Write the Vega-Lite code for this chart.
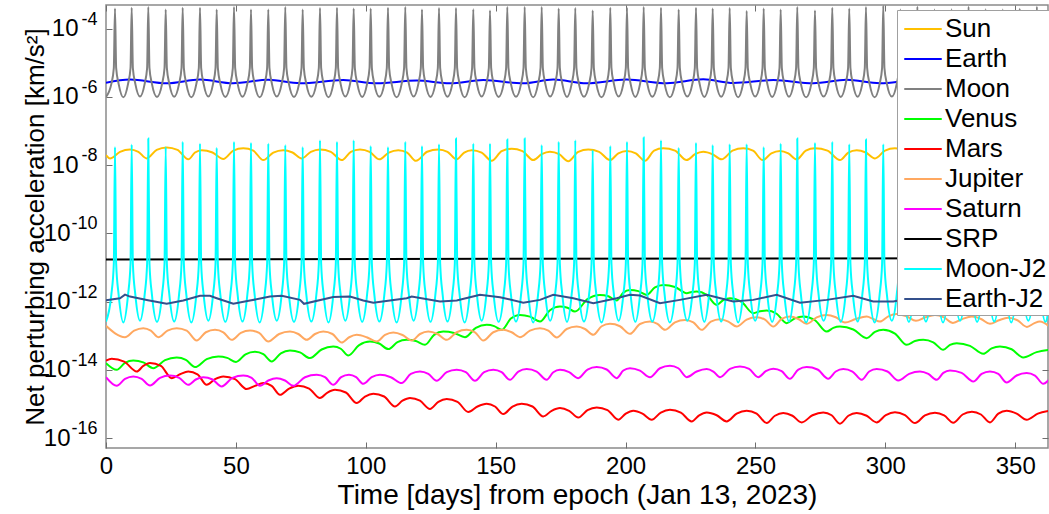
{
"$schema": "https://vega.github.io/schema/vega-lite/v6.json",
"width": 942, "height": 443,
"autosize": {"type": "none"},
"padding": {"left": 106, "top": 5, "right": 1, "bottom": 66},
"background": "white",
"config": {
 "font": "Liberation Sans",
 "view": {"stroke": "#8a8a8a", "strokeWidth": 1.5},
 "axis": {"grid": false, "domain": false, "tickColor": "#6e6e6e", "tickWidth": 1, "labelColor": "black", "titleColor": "black", "titleFontWeight": "normal"}
},
"datasets": {
"sun": [{"t":0,"v":1.96e-8},{"t":1.54,"v":1.57e-8},{"t":5.39,"v":2.45e-8},{"t":9.24,"v":2.88e-8},{"t":12.46,"v":2.45e-8},{"t":15.67,"v":1.57e-8},{"t":19.52,"v":2.8e-8},{"t":23.36,"v":3.3e-8},{"t":27.52,"v":2.8e-8},{"t":31.68,"v":1.47e-8},{"t":34.26,"v":2.33e-8},{"t":36.84,"v":2.74e-8},{"t":41.0,"v":2.33e-8},{"t":45.15,"v":1.5e-8},{"t":49.0,"v":2.64e-8},{"t":52.85,"v":3.1e-8},{"t":56.7,"v":2.64e-8},{"t":60.55,"v":1.4e-8},{"t":64.4,"v":2.33e-8},{"t":68.24,"v":2.74e-8},{"t":71.79,"v":2.33e-8},{"t":75.33,"v":1.57e-8},{"t":78.85,"v":2.45e-8},{"t":82.37,"v":2.88e-8},{"t":86.55,"v":2.45e-8},{"t":90.72,"v":1.4e-8},{"t":94.25,"v":2.45e-8},{"t":97.77,"v":2.88e-8},{"t":101.49,"v":2.45e-8},{"t":105.2,"v":1.47e-8},{"t":108.86,"v":2.33e-8},{"t":112.51,"v":2.74e-8},{"t":115.92,"v":2.33e-8},{"t":119.32,"v":1.33e-8},{"t":123.62,"v":2.45e-8},{"t":127.91,"v":2.88e-8},{"t":131.45,"v":2.45e-8},{"t":134.99,"v":1.47e-8},{"t":137.88,"v":2.33e-8},{"t":140.76,"v":2.74e-8},{"t":144.61,"v":2.33e-8},{"t":148.46,"v":1.33e-8},{"t":152.31,"v":2.55e-8},{"t":156.16,"v":3.0e-8},{"t":160.32,"v":2.55e-8},{"t":164.47,"v":1.4e-8},{"t":167.69,"v":2.08e-8},{"t":170.9,"v":2.45e-8},{"t":174.42,"v":2.08e-8},{"t":177.94,"v":1.3e-8},{"t":181.79,"v":2.45e-8},{"t":185.64,"v":2.88e-8},{"t":189.82,"v":2.45e-8},{"t":193.99,"v":1.4e-8},{"t":197.21,"v":2.2e-8},{"t":200.42,"v":2.6e-8},{"t":203.95,"v":2.2e-8},{"t":207.47,"v":1.33e-8},{"t":210.99,"v":2.64e-8},{"t":214.51,"v":3.1e-8},{"t":219.02,"v":2.64e-8},{"t":223.52,"v":1.4e-8},{"t":226.72,"v":2.08e-8},{"t":229.91,"v":2.45e-8},{"t":233.45,"v":2.08e-8},{"t":236.99,"v":1.47e-8},{"t":241.15,"v":2.64e-8},{"t":245.3,"v":3.1e-8},{"t":249.04,"v":2.64e-8},{"t":252.77,"v":1.4e-8},{"t":256.1,"v":2.2e-8},{"t":259.43,"v":2.6e-8},{"t":262.65,"v":2.2e-8},{"t":265.86,"v":1.47e-8},{"t":269.38,"v":2.64e-8},{"t":272.9,"v":3.1e-8},{"t":277.71,"v":2.64e-8},{"t":282.52,"v":1.4e-8},{"t":285.74,"v":2.33e-8},{"t":288.95,"v":2.74e-8},{"t":292.47,"v":2.33e-8},{"t":295.99,"v":1.57e-8},{"t":299.85,"v":2.64e-8},{"t":303.7,"v":3.1e-8},{"t":307.15,"v":2.64e-8},{"t":310.6,"v":1.45e-8},{"t":314.45,"v":2.38e-8},{"t":318.3,"v":2.8e-8},{"t":321.8,"v":2.38e-8},{"t":325.3,"v":1.4e-8},{"t":328.95,"v":2.47e-8},{"t":332.6,"v":2.9e-8},{"t":336.25,"v":2.47e-8},{"t":339.9,"v":1.45e-8},{"t":343.55,"v":2.38e-8},{"t":347.2,"v":2.8e-8},{"t":350.85,"v":2.38e-8},{"t":354.5,"v":1.4e-8},{"t":358.15,"v":2.47e-8},{"t":361.8,"v":2.9e-8},{"t":363,"v":2.85e-8}],
"earth": [{"t":0,"v":2.6e-6},{"t":9.2,"v":3.2e-6},{"t":23.4,"v":2.5e-6},{"t":36.2,"v":3.2e-6},{"t":48.9,"v":2.5e-6},{"t":62.4,"v":3.15e-6},{"t":74.7,"v":2.5e-6},{"t":91.3,"v":3.1e-6},{"t":104.2,"v":2.5e-6},{"t":119.6,"v":3.0e-6},{"t":132.4,"v":2.5e-6},{"t":145.2,"v":3.1e-6},{"t":160.6,"v":2.5e-6},{"t":172.2,"v":3.2e-6},{"t":185.0,"v":2.5e-6},{"t":200.4,"v":3.2e-6},{"t":215.8,"v":2.5e-6},{"t":229.9,"v":3.25e-6},{"t":241.5,"v":2.55e-6},{"t":256.9,"v":3.1e-6},{"t":272.3,"v":2.5e-6},{"t":285.1,"v":3.15e-6},{"t":297.9,"v":2.5e-6},{"t":312,"v":3.1e-6},{"t":326,"v":2.5e-6},{"t":340,"v":3.1e-6},{"t":353,"v":2.5e-6},{"t":363,"v":2.9e-6}],
"moon": [{"t":0,"m":1.0e-6,"j":2.6e-13},
{"t":2.06,"m":2.4e-6,"j":1.6e-12},{"t":3.01,"m":7e-6,"j":1.3e-11},{"t":3.46,"m":3.85e-4,"j":3.4e-8},{"t":3.91,"m":7e-6,"j":1.3e-11},{"t":4.86,"m":2.4e-6,"j":1.6e-12},{"t":6.68,"m":9.7e-7,"j":2.45e-13},
{"t":8.49,"m":2.4e-6,"j":1.6e-12},{"t":9.44,"m":7e-6,"j":1.3e-11},{"t":9.89,"m":4.05e-4,"j":4.0e-8},{"t":10.34,"m":7e-6,"j":1.3e-11},{"t":11.29,"m":2.4e-6,"j":1.6e-12},{"t":13.09,"m":1.02e-6,"j":2.75e-13},
{"t":14.88,"m":2.4e-6,"j":1.6e-12},{"t":15.83,"m":7e-6,"j":1.3e-11},{"t":16.28,"m":4.3e-4,"j":6.0e-8},{"t":16.73,"m":7e-6,"j":1.3e-11},{"t":17.68,"m":2.4e-6,"j":1.6e-12},{"t":19.63,"m":9.9e-7,"j":2.55e-13},
{"t":21.58,"m":2.4e-6,"j":1.6e-12},{"t":22.53,"m":7e-6,"j":1.3e-11},{"t":22.98,"m":3.6e-4,"j":3.4e-8},{"t":23.43,"m":7e-6,"j":1.3e-11},{"t":24.38,"m":2.4e-6,"j":1.6e-12},{"t":26.25,"m":1.0e-6,"j":2.6e-13},
{"t":28.12,"m":2.4e-6,"j":1.6e-12},{"t":29.07,"m":7e-6,"j":1.3e-11},{"t":29.52,"m":4.05e-4,"j":4.8e-8},{"t":29.97,"m":7e-6,"j":1.3e-11},{"t":30.92,"m":2.4e-6,"j":1.6e-12},{"t":32.85,"m":9.7e-7,"j":2.45e-13},
{"t":34.78,"m":2.4e-6,"j":1.6e-12},{"t":35.73,"m":7e-6,"j":1.3e-11},{"t":36.18,"m":4.05e-4,"j":4.3e-8},{"t":36.63,"m":7e-6,"j":1.3e-11},{"t":37.58,"m":2.4e-6,"j":1.6e-12},{"t":39.4,"m":1.02e-6,"j":2.75e-13},
{"t":41.21,"m":2.4e-6,"j":1.6e-12},{"t":42.16,"m":7e-6,"j":1.3e-11},{"t":42.61,"m":3.6e-4,"j":3.2e-8},{"t":43.06,"m":7e-6,"j":1.3e-11},{"t":44.01,"m":2.4e-6,"j":1.6e-12},{"t":45.94,"m":9.9e-7,"j":2.55e-13},
{"t":47.87,"m":2.4e-6,"j":1.6e-12},{"t":48.82,"m":7e-6,"j":1.3e-11},{"t":49.27,"m":4.3e-4,"j":4.8e-8},{"t":49.72,"m":7e-6,"j":1.3e-11},{"t":50.67,"m":2.4e-6,"j":1.6e-12},{"t":52.54,"m":1.0e-6,"j":2.6e-13},
{"t":54.41,"m":2.4e-6,"j":1.6e-12},{"t":55.36,"m":7e-6,"j":1.3e-11},{"t":55.81,"m":3.6e-4,"j":4.5e-8},{"t":56.26,"m":7e-6,"j":1.3e-11},{"t":57.21,"m":2.4e-6,"j":1.6e-12},{"t":59.14,"m":9.7e-7,"j":2.45e-13},
{"t":61.07,"m":2.4e-6,"j":1.6e-12},{"t":62.02,"m":7e-6,"j":1.3e-11},{"t":62.47,"m":3.6e-4,"j":4.3e-8},{"t":62.92,"m":7e-6,"j":1.3e-11},{"t":63.87,"m":2.4e-6,"j":1.6e-12},{"t":65.74,"m":1.02e-6,"j":2.75e-13},
{"t":67.61,"m":2.4e-6,"j":1.6e-12},{"t":68.56,"m":7e-6,"j":1.3e-11},{"t":69.01,"m":4.3e-4,"j":3.85e-8},{"t":69.46,"m":7e-6,"j":1.3e-11},{"t":70.41,"m":2.4e-6,"j":1.6e-12},{"t":72.36,"m":9.9e-7,"j":2.55e-13},
{"t":74.31,"m":2.4e-6,"j":1.6e-12},{"t":75.26,"m":7e-6,"j":1.3e-11},{"t":75.71,"m":3.6e-4,"j":3.4e-8},{"t":76.16,"m":7e-6,"j":1.3e-11},{"t":77.11,"m":2.4e-6,"j":1.6e-12},{"t":79.04,"m":1.0e-6,"j":2.6e-13},
{"t":80.97,"m":2.4e-6,"j":1.6e-12},{"t":81.92,"m":7e-6,"j":1.3e-11},{"t":82.37,"m":4.0e-4,"j":5.3e-8},{"t":82.82,"m":7e-6,"j":1.3e-11},{"t":83.77,"m":2.4e-6,"j":1.6e-12},{"t":85.64,"m":9.7e-7,"j":2.45e-13},
{"t":87.51,"m":2.4e-6,"j":1.6e-12},{"t":88.46,"m":7e-6,"j":1.3e-11},{"t":88.91,"m":4.05e-4,"j":4.8e-8},{"t":89.36,"m":7e-6,"j":1.3e-11},{"t":90.31,"m":2.4e-6,"j":1.6e-12},{"t":92.13,"m":1.02e-6,"j":2.75e-13},
{"t":93.94,"m":2.4e-6,"j":1.6e-12},{"t":94.89,"m":7e-6,"j":1.3e-11},{"t":95.34,"m":3.85e-4,"j":5.3e-8},{"t":95.79,"m":7e-6,"j":1.3e-11},{"t":96.74,"m":2.4e-6,"j":1.6e-12},{"t":98.62,"m":9.9e-7,"j":2.55e-13},
{"t":100.49,"m":2.4e-6,"j":1.6e-12},{"t":101.44,"m":7e-6,"j":1.3e-11},{"t":101.89,"m":3.85e-4,"j":3.6e-8},{"t":102.34,"m":7e-6,"j":1.3e-11},{"t":103.29,"m":2.4e-6,"j":1.6e-12},{"t":105.22,"m":1.0e-6,"j":2.6e-13},
{"t":107.14,"m":2.4e-6,"j":1.6e-12},{"t":108.09,"m":7e-6,"j":1.3e-11},{"t":108.54,"m":4.05e-4,"j":3.4e-8},{"t":108.99,"m":7e-6,"j":1.3e-11},{"t":109.94,"m":2.4e-6,"j":1.6e-12},{"t":111.87,"m":9.7e-7,"j":2.45e-13},
{"t":113.8,"m":2.4e-6,"j":1.6e-12},{"t":114.75,"m":7e-6,"j":1.3e-11},{"t":115.2,"m":4.3e-4,"j":4.8e-8},{"t":115.65,"m":7e-6,"j":1.3e-11},{"t":116.6,"m":2.4e-6,"j":1.6e-12},{"t":118.42,"m":1.02e-6,"j":2.75e-13},
{"t":120.23,"m":2.4e-6,"j":1.6e-12},{"t":121.18,"m":7e-6,"j":1.3e-11},{"t":121.63,"m":3.6e-4,"j":3.6e-8},{"t":122.08,"m":7e-6,"j":1.3e-11},{"t":123.03,"m":2.4e-6,"j":1.6e-12},{"t":124.91,"m":9.9e-7,"j":2.55e-13},
{"t":126.78,"m":2.4e-6,"j":1.6e-12},{"t":127.73,"m":7e-6,"j":1.3e-11},{"t":128.18,"m":4.0e-4,"j":4.1e-8},{"t":128.63,"m":7e-6,"j":1.3e-11},{"t":129.58,"m":2.4e-6,"j":1.6e-12},{"t":131.45,"m":1.0e-6,"j":2.6e-13},
{"t":133.32,"m":2.4e-6,"j":1.6e-12},{"t":134.27,"m":7e-6,"j":1.3e-11},{"t":134.72,"m":4.0e-4,"j":6.0e-8},{"t":135.17,"m":7e-6,"j":1.3e-11},{"t":136.12,"m":2.4e-6,"j":1.6e-12},{"t":138.05,"m":9.7e-7,"j":2.45e-13},
{"t":139.98,"m":2.4e-6,"j":1.6e-12},{"t":140.93,"m":7e-6,"j":1.3e-11},{"t":141.38,"m":3.7e-4,"j":4.3e-8},{"t":141.83,"m":7e-6,"j":1.3e-11},{"t":142.78,"m":2.4e-6,"j":1.6e-12},{"t":144.6,"m":1.02e-6,"j":2.75e-13},
{"t":146.41,"m":2.4e-6,"j":1.6e-12},{"t":147.36,"m":7e-6,"j":1.3e-11},{"t":147.81,"m":3.4e-4,"j":4.3e-8},{"t":148.26,"m":7e-6,"j":1.3e-11},{"t":149.21,"m":2.4e-6,"j":1.6e-12},{"t":151.14,"m":9.9e-7,"j":2.55e-13},
{"t":153.07,"m":2.4e-6,"j":1.6e-12},{"t":154.02,"m":7e-6,"j":1.3e-11},{"t":154.47,"m":4.3e-4,"j":5.6e-8},{"t":154.92,"m":7e-6,"j":1.3e-11},{"t":155.87,"m":2.4e-6,"j":1.6e-12},{"t":157.82,"m":1.0e-6,"j":2.6e-13},
{"t":159.76,"m":2.4e-6,"j":1.6e-12},{"t":160.71,"m":7e-6,"j":1.3e-11},{"t":161.16,"m":4.3e-4,"j":6.0e-8},{"t":161.61,"m":7e-6,"j":1.3e-11},{"t":162.56,"m":2.4e-6,"j":1.6e-12},{"t":164.44,"m":9.7e-7,"j":2.45e-13},
{"t":166.31,"m":2.4e-6,"j":1.6e-12},{"t":167.26,"m":7e-6,"j":1.3e-11},{"t":167.71,"m":4.3e-4,"j":3.85e-8},{"t":168.16,"m":7e-6,"j":1.3e-11},{"t":169.11,"m":2.4e-6,"j":1.6e-12},{"t":170.98,"m":1.02e-6,"j":2.75e-13},
{"t":172.85,"m":2.4e-6,"j":1.6e-12},{"t":173.8,"m":7e-6,"j":1.3e-11},{"t":174.25,"m":3.85e-4,"j":4.8e-8},{"t":174.7,"m":7e-6,"j":1.3e-11},{"t":175.65,"m":2.4e-6,"j":1.6e-12},{"t":177.45,"m":9.9e-7,"j":2.55e-13},
{"t":179.24,"m":2.4e-6,"j":1.6e-12},{"t":180.19,"m":7e-6,"j":1.3e-11},{"t":180.64,"m":4.0e-4,"j":5.3e-8},{"t":181.09,"m":7e-6,"j":1.3e-11},{"t":182.04,"m":2.4e-6,"j":1.6e-12},{"t":183.99,"m":1.0e-6,"j":2.6e-13},
{"t":185.94,"m":2.4e-6,"j":1.6e-12},{"t":186.89,"m":7e-6,"j":1.3e-11},{"t":187.34,"m":3.4e-4,"j":2.74e-8},{"t":187.79,"m":7e-6,"j":1.3e-11},{"t":188.74,"m":2.4e-6,"j":1.6e-12},{"t":190.73,"m":9.7e-7,"j":2.45e-13},
{"t":192.71,"m":2.4e-6,"j":1.6e-12},{"t":193.66,"m":7e-6,"j":1.3e-11},{"t":194.11,"m":4.05e-4,"j":3.6e-8},{"t":194.56,"m":7e-6,"j":1.3e-11},{"t":195.51,"m":2.4e-6,"j":1.6e-12},{"t":197.33,"m":1.02e-6,"j":2.75e-13},
{"t":199.14,"m":2.4e-6,"j":1.6e-12},{"t":200.09,"m":7e-6,"j":1.3e-11},{"t":200.54,"m":4.05e-4,"j":4.8e-8},{"t":200.99,"m":7e-6,"j":1.3e-11},{"t":201.94,"m":2.4e-6,"j":1.6e-12},{"t":203.76,"m":9.9e-7,"j":2.55e-13},
{"t":205.57,"m":2.4e-6,"j":1.6e-12},{"t":206.52,"m":7e-6,"j":1.3e-11},{"t":206.97,"m":4.3e-4,"j":6.45e-8},{"t":207.42,"m":7e-6,"j":1.3e-11},{"t":208.37,"m":2.4e-6,"j":1.6e-12},{"t":210.3,"m":1.0e-6,"j":2.6e-13},
{"t":212.23,"m":2.4e-6,"j":1.6e-12},{"t":213.18,"m":7e-6,"j":1.3e-11},{"t":213.63,"m":4.05e-4,"j":5.3e-8},{"t":214.08,"m":7e-6,"j":1.3e-11},{"t":215.03,"m":2.4e-6,"j":1.6e-12},{"t":217.04,"m":9.7e-7,"j":2.45e-13},
{"t":219.04,"m":2.4e-6,"j":1.6e-12},{"t":219.99,"m":7e-6,"j":1.3e-11},{"t":220.44,"m":3.6e-4,"j":3.2e-8},{"t":220.89,"m":7e-6,"j":1.3e-11},{"t":221.84,"m":2.4e-6,"j":1.6e-12},{"t":223.77,"m":1.02e-6,"j":2.75e-13},
{"t":225.7,"m":2.4e-6,"j":1.6e-12},{"t":226.65,"m":7e-6,"j":1.3e-11},{"t":227.1,"m":4.05e-4,"j":4.5e-8},{"t":227.55,"m":7e-6,"j":1.3e-11},{"t":228.5,"m":2.4e-6,"j":1.6e-12},{"t":230.32,"m":9.9e-7,"j":2.55e-13},
{"t":232.13,"m":2.4e-6,"j":1.6e-12},{"t":233.08,"m":7e-6,"j":1.3e-11},{"t":233.53,"m":3.85e-4,"j":3.85e-8},{"t":233.98,"m":7e-6,"j":1.3e-11},{"t":234.93,"m":2.4e-6,"j":1.6e-12},{"t":236.8,"m":1.0e-6,"j":2.6e-13},
{"t":238.67,"m":2.4e-6,"j":1.6e-12},{"t":239.62,"m":7e-6,"j":1.3e-11},{"t":240.07,"m":4.0e-4,"j":4.1e-8},{"t":240.52,"m":7e-6,"j":1.3e-11},{"t":241.47,"m":2.4e-6,"j":1.6e-12},{"t":243.34,"m":9.7e-7,"j":2.45e-13},
{"t":245.21,"m":2.4e-6,"j":1.6e-12},{"t":246.16,"m":7e-6,"j":1.3e-11},{"t":246.61,"m":3.3e-4,"j":4.1e-8},{"t":247.06,"m":7e-6,"j":1.3e-11},{"t":248.01,"m":2.4e-6,"j":1.6e-12},{"t":249.89,"m":1.02e-6,"j":2.75e-13},
{"t":251.76,"m":2.4e-6,"j":1.6e-12},{"t":252.71,"m":7e-6,"j":1.3e-11},{"t":253.16,"m":3.85e-4,"j":3.4e-8},{"t":253.61,"m":7e-6,"j":1.3e-11},{"t":254.56,"m":2.4e-6,"j":1.6e-12},{"t":256.43,"m":9.9e-7,"j":2.55e-13},
{"t":258.3,"m":2.4e-6,"j":1.6e-12},{"t":259.25,"m":7e-6,"j":1.3e-11},{"t":259.7,"m":3.6e-4,"j":4.3e-8},{"t":260.15,"m":7e-6,"j":1.3e-11},{"t":261.1,"m":2.4e-6,"j":1.6e-12},{"t":262.9,"m":1.0e-6,"j":2.6e-13},
{"t":264.69,"m":2.4e-6,"j":1.6e-12},{"t":265.64,"m":7e-6,"j":1.3e-11},{"t":266.09,"m":4.3e-4,"j":6.0e-8},{"t":266.54,"m":7e-6,"j":1.3e-11},{"t":267.49,"m":2.4e-6,"j":1.6e-12},{"t":269.5,"m":9.7e-7,"j":2.45e-13},
{"t":271.5,"m":2.4e-6,"j":1.6e-12},{"t":272.45,"m":7e-6,"j":1.3e-11},{"t":272.9,"m":3.4e-4,"j":4.5e-8},{"t":273.35,"m":7e-6,"j":1.3e-11},{"t":274.3,"m":2.4e-6,"j":1.6e-12},{"t":276.23,"m":1.02e-6,"j":2.75e-13},
{"t":278.16,"m":2.4e-6,"j":1.6e-12},{"t":279.11,"m":7e-6,"j":1.3e-11},{"t":279.56,"m":4.05e-4,"j":4.8e-8},{"t":280.01,"m":7e-6,"j":1.3e-11},{"t":280.96,"m":2.4e-6,"j":1.6e-12},{"t":282.83,"m":9.9e-7,"j":2.55e-13},
{"t":284.7,"m":2.4e-6,"j":1.6e-12},{"t":285.65,"m":7e-6,"j":1.3e-11},{"t":286.1,"m":3.85e-4,"j":4.1e-8},{"t":286.55,"m":7e-6,"j":1.3e-11},{"t":287.5,"m":2.4e-6,"j":1.6e-12},{"t":289.32,"m":1.0e-6,"j":2.6e-13},
{"t":291.13,"m":2.4e-6,"j":1.6e-12},{"t":292.08,"m":7e-6,"j":1.3e-11},{"t":292.53,"m":4.3e-4,"j":5.6e-8},{"t":292.98,"m":7e-6,"j":1.3e-11},{"t":293.93,"m":2.4e-6,"j":1.6e-12},{"t":295.86,"m":9.7e-7,"j":2.45e-13},
{"t":297.79,"m":2.4e-6,"j":1.6e-12},{"t":298.74,"m":7e-6,"j":1.3e-11},{"t":299.19,"m":4.7e-4,"j":4.1e-8},{"t":299.64,"m":7e-6,"j":1.3e-11},{"t":300.59,"m":2.4e-6,"j":1.6e-12},{"t":302.48,"m":1.02e-6,"j":2.75e-13},
{"t":304.37,"m":2.4e-6,"j":1.6e-12},{"t":305.32,"m":7e-6,"j":1.3e-11},{"t":305.77,"m":3.6e-4,"j":4.3e-8},{"t":306.22,"m":7e-6,"j":1.3e-11},{"t":307.17,"m":2.4e-6,"j":1.6e-12},{"t":309.05,"m":9.9e-7,"j":2.55e-13},
{"t":310.92,"m":2.4e-6,"j":1.6e-12},{"t":311.87,"m":7e-6,"j":1.3e-11},{"t":312.32,"m":4.4e-4,"j":4.8e-8},{"t":312.77,"m":7e-6,"j":1.3e-11},{"t":313.72,"m":2.4e-6,"j":1.6e-12},{"t":315.61,"m":1.0e-6,"j":2.6e-13},
{"t":317.5,"m":2.4e-6,"j":1.6e-12},{"t":318.45,"m":7e-6,"j":1.3e-11},{"t":318.9,"m":3.6e-4,"j":3.6e-8},{"t":319.35,"m":7e-6,"j":1.3e-11},{"t":320.3,"m":2.4e-6,"j":1.6e-12},{"t":322.19,"m":9.7e-7,"j":2.45e-13},
{"t":324.08,"m":2.4e-6,"j":1.6e-12},{"t":325.03,"m":7e-6,"j":1.3e-11},{"t":325.48,"m":3.7e-4,"j":4.5e-8},{"t":325.93,"m":7e-6,"j":1.3e-11},{"t":326.88,"m":2.4e-6,"j":1.6e-12},{"t":328.75,"m":1.02e-6,"j":2.75e-13},
{"t":330.62,"m":2.4e-6,"j":1.6e-12},{"t":331.57,"m":7e-6,"j":1.3e-11},{"t":332.02,"m":4.4e-4,"j":5.3e-8},{"t":332.47,"m":7e-6,"j":1.3e-11},{"t":333.42,"m":2.4e-6,"j":1.6e-12},{"t":335.32,"m":9.9e-7,"j":2.55e-13},
{"t":337.21,"m":2.4e-6,"j":1.6e-12},{"t":338.16,"m":7e-6,"j":1.3e-11},{"t":338.61,"m":3.7e-4,"j":4.0e-8},{"t":339.06,"m":7e-6,"j":1.3e-11},{"t":340.01,"m":2.4e-6,"j":1.6e-12},{"t":341.9,"m":1.0e-6,"j":2.6e-13},
{"t":343.79,"m":2.4e-6,"j":1.6e-12},{"t":344.74,"m":7e-6,"j":1.3e-11},{"t":345.19,"m":3.6e-4,"j":4.3e-8},{"t":345.64,"m":7e-6,"j":1.3e-11},{"t":346.59,"m":2.4e-6,"j":1.6e-12},{"t":348.46,"m":9.7e-7,"j":2.45e-13},
{"t":350.33,"m":2.4e-6,"j":1.6e-12},{"t":351.28,"m":7e-6,"j":1.3e-11},{"t":351.73,"m":3.8e-4,"j":3.8e-8},{"t":352.18,"m":7e-6,"j":1.3e-11},{"t":353.13,"m":2.4e-6,"j":1.6e-12},{"t":355.03,"m":1.02e-6,"j":2.75e-13},
{"t":356.92,"m":2.4e-6,"j":1.6e-12},{"t":357.87,"m":7e-6,"j":1.3e-11},{"t":358.32,"m":4.4e-4,"j":4.8e-8},{"t":358.77,"m":7e-6,"j":1.3e-11},{"t":359.72,"m":2.4e-6,"j":1.6e-12},{"t":361.61,"m":9.9e-7,"j":2.55e-13},
{"t":363.5,"m":2.4e-6,"j":1.6e-12}],
"venus": [{"t":0,"v":1.57e-14},{"t":4.12,"v":1.0e-14},{"t":7.32,"v":1.6e-14},{"t":10.51,"v":1.87e-14},{"t":14.36,"v":1.65e-14},{"t":18.21,"v":1.12e-14},{"t":22.71,"v":1.92e-14},{"t":27.21,"v":2.29e-14},{"t":30.74,"v":1.95e-14},{"t":34.26,"v":1.2e-14},{"t":38.75,"v":2.05e-14},{"t":43.23,"v":2.45e-14},{"t":46.64,"v":2.24e-14},{"t":50.04,"v":1.7e-14},{"t":53.7,"v":2.83e-14},{"t":57.35,"v":3.37e-14},{"t":60.57,"v":2.86e-14},{"t":63.78,"v":1.75e-14},{"t":67.3,"v":3.05e-14},{"t":70.82,"v":3.67e-14},{"t":74.67,"v":3.23e-14},{"t":78.52,"v":2.2e-14},{"t":83.0,"v":3.94e-14},{"t":87.49,"v":4.81e-14},{"t":90.38,"v":4.14e-14},{"t":93.26,"v":2.62e-14},{"t":97.44,"v":5.3e-14},{"t":101.62,"v":6.73e-14},{"t":105.14,"v":5.9e-14},{"t":108.66,"v":4.04e-14},{"t":112.2,"v":6.45e-14},{"t":115.74,"v":7.55e-14},{"t":119.27,"v":6.95e-14},{"t":122.79,"v":5.39e-14},{"t":126.31,"v":1.06e-13},{"t":129.83,"v":1.32e-13},{"t":134.0,"v":1.2e-13},{"t":138.18,"v":9.06e-14},{"t":142.36,"v":1.69e-13},{"t":146.54,"v":2.08e-13},{"t":149.43,"v":1.91e-13},{"t":152.31,"v":1.48e-13},{"t":155.83,"v":3.17e-13},{"t":159.35,"v":4.07e-13},{"t":163.2,"v":3.62e-13},{"t":167.05,"v":2.59e-13},{"t":170.9,"v":5.56e-13},{"t":174.75,"v":7.13e-13},{"t":177.64,"v":6.56e-13},{"t":180.52,"v":5.08e-13},{"t":185.34,"v":1.18e-12},{"t":190.15,"v":1.57e-12},{"t":193.36,"v":1.43e-12},{"t":196.57,"v":1.07e-12},{"t":199.13,"v":1.83e-12},{"t":201.69,"v":2.19e-12},{"t":204.9,"v":2.02e-12},{"t":208.12,"v":1.57e-12},{"t":211.32,"v":2.6e-12},{"t":214.51,"v":3.08e-12},{"t":219.02,"v":2.68e-12},{"t":223.52,"v":1.76e-12},{"t":225.45,"v":1.9e-12},{"t":227.37,"v":1.96e-12},{"t":231.22,"v":1.57e-12},{"t":235.07,"v":7.98e-13},{"t":237.63,"v":1.11e-12},{"t":240.19,"v":1.25e-12},{"t":244.67,"v":9.75e-13},{"t":249.15,"v":4.56e-13},{"t":251.73,"v":5.2e-13},{"t":254.31,"v":5.43e-13},{"t":258.16,"v":4.4e-13},{"t":262.01,"v":2.33e-13},{"t":265.2,"v":3.23e-13},{"t":268.4,"v":3.63e-13},{"t":272.9,"v":2.83e-13},{"t":277.41,"v":1.32e-13},{"t":279.97,"v":1.7e-13},{"t":282.52,"v":1.85e-13},{"t":287.66,"v":1.52e-13},{"t":292.8,"v":8.47e-14},{"t":296.0,"v":1.29e-13},{"t":299.19,"v":1.48e-13},{"t":303.7,"v":1.15e-13},{"t":308.2,"v":5.39e-14},{"t":311.4,"v":6.95e-14},{"t":314.59,"v":7.55e-14},{"t":318.44,"v":6.4e-14},{"t":322.29,"v":3.85e-14},{"t":324.87,"v":5.4e-14},{"t":327.45,"v":6.05e-14},{"t":332.57,"v":5.05e-14},{"t":337.68,"v":2.94e-14},{"t":340.9,"v":4.23e-14},{"t":344.11,"v":4.81e-14},{"t":348.6,"v":4.0e-14},{"t":353.08,"v":2.29e-14},{"t":358.2,"v":3.3e-14},{"t":362.97,"v":3.85e-14}],
"mars": [{"t":0,"v":1.85e-14},{"t":2.19,"v":2.1e-14},{"t":7.0,"v":1.74e-14},{"t":11.82,"v":8.9e-15},{"t":14.38,"v":1.3e-14},{"t":16.94,"v":1.57e-14},{"t":21.12,"v":1.3e-14},{"t":25.29,"v":5.7e-15},{"t":28.49,"v":7.4e-15},{"t":31.68,"v":8.9e-15},{"t":35.22,"v":7.4e-15},{"t":38.76,"v":3.64e-15},{"t":41.96,"v":5.3e-15},{"t":45.15,"v":6.37e-15},{"t":49.66,"v":5.3e-15},{"t":54.16,"v":2.72e-15},{"t":57.36,"v":3.39e-15},{"t":60.55,"v":4.08e-15},{"t":63.76,"v":3.39e-15},{"t":66.97,"v":1.85e-15},{"t":70.5,"v":2.82e-15},{"t":74.02,"v":3.4e-15},{"t":78.2,"v":2.82e-15},{"t":82.37,"v":1.49e-15},{"t":85.26,"v":2.16e-15},{"t":88.15,"v":2.6e-15},{"t":92.33,"v":2.16e-15},{"t":96.5,"v":1.06e-15},{"t":99.7,"v":1.65e-15},{"t":102.89,"v":1.99e-15},{"t":107.07,"v":1.65e-15},{"t":111.24,"v":8.4e-16},{"t":114.13,"v":1.24e-15},{"t":117.01,"v":1.49e-15},{"t":120.86,"v":1.24e-15},{"t":124.71,"v":7.1e-16},{"t":127.93,"v":1.15e-15},{"t":131.14,"v":1.39e-15},{"t":135.3,"v":1.15e-15},{"t":139.45,"v":5.8e-16},{"t":143.0,"v":8.4e-16},{"t":146.54,"v":1.01e-15},{"t":149.74,"v":8.4e-16},{"t":152.93,"v":5.06e-16},{"t":156.47,"v":8.4e-16},{"t":160.01,"v":1.01e-15},{"t":164.17,"v":8.4e-16},{"t":168.32,"v":4.3e-16},{"t":171.54,"v":6.3e-16},{"t":174.75,"v":7.6e-16},{"t":178.27,"v":6.3e-16},{"t":181.79,"v":4.0e-16},{"t":185.34,"v":6.6e-16},{"t":188.88,"v":7.9e-16},{"t":193.04,"v":6.6e-16},{"t":197.19,"v":3.44e-16},{"t":200.08,"v":5.2e-16},{"t":202.96,"v":6.3e-16},{"t":206.5,"v":5.2e-16},{"t":210.05,"v":3.44e-16},{"t":213.57,"v":5.6e-16},{"t":217.09,"v":6.8e-16},{"t":221.27,"v":5.6e-16},{"t":225.44,"v":3.07e-16},{"t":228.33,"v":4.65e-16},{"t":231.22,"v":5.6e-16},{"t":235.07,"v":4.65e-16},{"t":238.91,"v":3.07e-16},{"t":242.76,"v":5.2e-16},{"t":246.61,"v":6.3e-16},{"t":250.46,"v":5.2e-16},{"t":254.31,"v":2.75e-16},{"t":257.5,"v":4.5e-16},{"t":260.7,"v":5.4e-16},{"t":264.24,"v":4.5e-16},{"t":267.78,"v":2.87e-16},{"t":271.94,"v":4.65e-16},{"t":276.1,"v":5.6e-16},{"t":279.31,"v":4.65e-16},{"t":282.52,"v":2.63e-16},{"t":285.74,"v":4.5e-16},{"t":288.95,"v":5.4e-16},{"t":292.8,"v":4.5e-16},{"t":296.65,"v":2.87e-16},{"t":300.18,"v":4.7e-16},{"t":303.7,"v":5.7e-16},{"t":307.55,"v":4.7e-16},{"t":311.39,"v":2.75e-16},{"t":315.24,"v":4.6e-16},{"t":319.09,"v":5.5e-16},{"t":322.62,"v":4.6e-16},{"t":326.14,"v":2.8e-16},{"t":329.74,"v":4.9e-16},{"t":333.33,"v":5.9e-16},{"t":336.8,"v":4.9e-16},{"t":340.26,"v":2.87e-16},{"t":343.48,"v":5.2e-16},{"t":346.69,"v":6.3e-16},{"t":350.54,"v":5.2e-16},{"t":354.39,"v":3.44e-16},{"t":358.68,"v":5.2e-16},{"t":362.97,"v":6.3e-16}],
"jupiter": [{"t":0,"v":1.94e-13},{"t":7.31,"v":9.06e-14},{"t":10.84,"v":1.41e-13},{"t":14.36,"v":1.66e-13},{"t":17.25,"v":1.41e-13},{"t":20.13,"v":9.06e-14},{"t":23.67,"v":1.41e-13},{"t":27.21,"v":1.66e-13},{"t":31.06,"v":1.41e-13},{"t":34.91,"v":7.2e-14},{"t":38.44,"v":1.26e-13},{"t":41.96,"v":1.48e-13},{"t":45.17,"v":1.26e-13},{"t":48.38,"v":7.55e-14},{"t":51.91,"v":1.2e-13},{"t":55.43,"v":1.41e-13},{"t":58.95,"v":1.2e-13},{"t":62.47,"v":6.73e-14},{"t":66.65,"v":1.12e-13},{"t":70.82,"v":1.32e-13},{"t":74.04,"v":1.12e-13},{"t":77.25,"v":7.55e-14},{"t":80.45,"v":1.12e-13},{"t":83.64,"v":1.32e-13},{"t":87.18,"v":1.12e-13},{"t":90.72,"v":6.3e-14},{"t":93.61,"v":9.0e-14},{"t":96.5,"v":1.06e-13},{"t":100.35,"v":9.0e-14},{"t":104.2,"v":6.73e-14},{"t":107.4,"v":1.05e-13},{"t":110.59,"v":1.24e-13},{"t":114.13,"v":1.05e-13},{"t":117.67,"v":7.2e-14},{"t":120.87,"v":1.12e-13},{"t":124.06,"v":1.32e-13},{"t":127.6,"v":1.12e-13},{"t":131.14,"v":7.55e-14},{"t":134.99,"v":1.26e-13},{"t":138.84,"v":1.48e-13},{"t":142.04,"v":1.26e-13},{"t":145.23,"v":7.2e-14},{"t":149.08,"v":1.26e-13},{"t":152.93,"v":1.48e-13},{"t":156.14,"v":1.26e-13},{"t":159.35,"v":9.06e-14},{"t":163.2,"v":1.41e-13},{"t":167.05,"v":1.66e-13},{"t":170.27,"v":1.41e-13},{"t":173.48,"v":8.9e-14},{"t":177.33,"v":1.57e-13},{"t":181.18,"v":1.85e-13},{"t":184.38,"v":1.57e-13},{"t":187.57,"v":1.06e-13},{"t":190.78,"v":1.89e-13},{"t":193.99,"v":2.22e-13},{"t":197.84,"v":1.89e-13},{"t":201.69,"v":1.13e-13},{"t":205.54,"v":2.2e-13},{"t":209.39,"v":2.59e-13},{"t":212.28,"v":2.2e-13},{"t":215.17,"v":1.48e-13},{"t":219.02,"v":2.47e-13},{"t":222.86,"v":2.9e-13},{"t":226.08,"v":2.47e-13},{"t":229.29,"v":1.48e-13},{"t":232.82,"v":2.59e-13},{"t":236.34,"v":3.05e-13},{"t":239.55,"v":2.59e-13},{"t":242.76,"v":1.85e-13},{"t":246.61,"v":2.97e-13},{"t":250.46,"v":3.49e-13},{"t":253.66,"v":2.97e-13},{"t":256.85,"v":1.85e-13},{"t":260.07,"v":3.09e-13},{"t":263.28,"v":3.63e-13},{"t":266.5,"v":3.09e-13},{"t":269.71,"v":2.22e-13},{"t":273.56,"v":3.46e-13},{"t":277.41,"v":4.07e-13},{"t":280.93,"v":3.46e-13},{"t":284.45,"v":2.42e-13},{"t":288.63,"v":3.09e-13},{"t":292.8,"v":3.63e-13},{"t":295.36,"v":3.09e-13},{"t":297.92,"v":2.59e-13},{"t":301.14,"v":3.7e-13},{"t":304.35,"v":4.35e-13},{"t":308.07,"v":3.7e-13},{"t":311.78,"v":2.72e-13},{"t":315.44,"v":3.46e-13},{"t":319.09,"v":4.07e-13},{"t":322.56,"v":3.46e-13},{"t":326.02,"v":2.37e-13},{"t":329.68,"v":3.09e-13},{"t":333.33,"v":3.63e-13},{"t":336.8,"v":3.09e-13},{"t":340.26,"v":2.22e-13},{"t":343.73,"v":2.83e-13},{"t":347.19,"v":3.33e-13},{"t":350.85,"v":2.83e-13},{"t":354.5,"v":1.81e-13},{"t":357.2,"v":2.3e-13},{"t":359.5,"v":2.6e-13},{"t":362.97,"v":1.9e-13}],
"saturn": [{"t":0,"v":6.1e-15},{"t":4.12,"v":3.4e-15},{"t":7.32,"v":5.4e-15},{"t":10.51,"v":6.37e-15},{"t":13.73,"v":5.4e-15},{"t":16.94,"v":3.47e-15},{"t":20.79,"v":5.8e-15},{"t":24.63,"v":6.8e-15},{"t":28.16,"v":5.8e-15},{"t":31.68,"v":3.64e-15},{"t":34.57,"v":5.2e-15},{"t":37.45,"v":6.1e-15},{"t":40.99,"v":5.2e-15},{"t":44.53,"v":3.25e-15},{"t":48.69,"v":5.8e-15},{"t":52.85,"v":6.8e-15},{"t":56.07,"v":5.8e-15},{"t":59.28,"v":3.4e-15},{"t":62.49,"v":4.85e-15},{"t":65.7,"v":5.7e-15},{"t":68.9,"v":4.85e-15},{"t":72.09,"v":3.4e-15},{"t":76.6,"v":6.07e-15},{"t":81.1,"v":7.14e-15},{"t":84.3,"v":6.07e-15},{"t":87.49,"v":3.64e-15},{"t":90.51,"v":6.07e-15},{"t":93.53,"v":7.14e-15},{"t":96.29,"v":6.07e-15},{"t":99.04,"v":3.89e-15},{"t":102.26,"v":6.07e-15},{"t":105.47,"v":7.14e-15},{"t":109.65,"v":6.07e-15},{"t":113.82,"v":4.08e-15},{"t":117.34,"v":7.57e-15},{"t":120.86,"v":8.9e-15},{"t":124.08,"v":7.57e-15},{"t":127.29,"v":4.76e-15},{"t":131.14,"v":8.5e-15},{"t":134.99,"v":1.0e-14},{"t":138.51,"v":8.5e-15},{"t":142.03,"v":4.76e-15},{"t":145.56,"v":8.5e-15},{"t":149.08,"v":1.0e-14},{"t":152.29,"v":8.5e-15},{"t":155.5,"v":5.1e-15},{"t":158.72,"v":8.9e-15},{"t":161.93,"v":1.05e-14},{"t":165.78,"v":8.9e-15},{"t":169.63,"v":5.1e-15},{"t":172.19,"v":8.5e-15},{"t":174.75,"v":1.0e-14},{"t":178.27,"v":8.5e-15},{"t":181.79,"v":5.7e-15},{"t":185.34,"v":1.02e-14},{"t":188.88,"v":1.2e-14},{"t":192.73,"v":1.02e-14},{"t":196.57,"v":5.7e-15},{"t":199.13,"v":9.5e-15},{"t":201.69,"v":1.12e-14},{"t":205.54,"v":9.5e-15},{"t":209.39,"v":6.1e-15},{"t":213.24,"v":1.11e-14},{"t":217.09,"v":1.31e-14},{"t":220.31,"v":1.11e-14},{"t":223.52,"v":6.1e-15},{"t":227.37,"v":8.9e-15},{"t":231.22,"v":1.05e-14},{"t":233.78,"v":8.9e-15},{"t":236.34,"v":6.1e-15},{"t":240.19,"v":1.06e-14},{"t":244.03,"v":1.25e-14},{"t":247.56,"v":1.06e-14},{"t":251.08,"v":6.1e-15},{"t":253.97,"v":9.1e-15},{"t":256.85,"v":1.07e-14},{"t":260.07,"v":9.1e-15},{"t":263.28,"v":5.45e-15},{"t":266.5,"v":1.02e-14},{"t":269.71,"v":1.2e-14},{"t":273.87,"v":1.02e-14},{"t":278.02,"v":5.45e-15},{"t":280.91,"v":8.9e-15},{"t":283.8,"v":1.05e-14},{"t":287.34,"v":8.9e-15},{"t":290.88,"v":5.1e-15},{"t":293.77,"v":8.9e-15},{"t":296.65,"v":1.05e-14},{"t":300.81,"v":8.9e-15},{"t":304.97,"v":4.86e-15},{"t":309.15,"v":7.57e-15},{"t":313.32,"v":8.9e-15},{"t":316.54,"v":7.57e-15},{"t":319.75,"v":5.1e-15},{"t":322.31,"v":8.1e-15},{"t":324.87,"v":9.55e-15},{"t":329.35,"v":8.1e-15},{"t":333.83,"v":4.54e-15},{"t":337.05,"v":7.57e-15},{"t":340.26,"v":8.9e-15},{"t":343.48,"v":7.57e-15},{"t":346.69,"v":4.25e-15},{"t":350.54,"v":6.8e-15},{"t":354.39,"v":8.0e-15},{"t":357.59,"v":6.8e-15},{"t":360.78,"v":3.89e-15},{"t":362.97,"v":5.1e-15}],
"srp": [{"t":0,"v":1.72e-11},{"t":362.97,"v":1.88e-11}],
"earthj2": [{"t":0,"v":1.1e-12},{"t":5.39,"v":1.25e-12},{"t":7.31,"v":1.6e-12},{"t":9.24,"v":1.4e-12},{"t":16.17,"v":1.1e-12},{"t":23.36,"v":8.6e-13},{"t":29.75,"v":1.07e-12},{"t":36.18,"v":1.47e-12},{"t":40.03,"v":1.47e-12},{"t":42.61,"v":1.25e-12},{"t":49.0,"v":8.6e-13},{"t":55.43,"v":1.07e-12},{"t":63.13,"v":1.4e-12},{"t":67.63,"v":1.47e-12},{"t":74.67,"v":1.12e-12},{"t":76.21,"v":8.6e-13},{"t":87.49,"v":1.35e-12},{"t":93.92,"v":1.4e-12},{"t":99.04,"v":1.07e-12},{"t":102.89,"v":9.3e-13},{"t":109.31,"v":1.07e-12},{"t":115.74,"v":1.25e-12},{"t":117.67,"v":1.4e-12},{"t":128.56,"v":1.0e-12},{"t":134.99,"v":1.07e-12},{"t":143.96,"v":1.57e-12},{"t":151.66,"v":1.34e-12},{"t":160.62,"v":9.3e-13},{"t":167.05,"v":1.12e-12},{"t":172.17,"v":1.57e-12},{"t":179.87,"v":1.25e-12},{"t":187.57,"v":8.95e-13},{"t":196.57,"v":1.25e-12},{"t":201.69,"v":1.57e-12},{"t":205.54,"v":1.5e-12},{"t":213.24,"v":8.95e-13},{"t":220.94,"v":1.12e-12},{"t":231.22,"v":1.57e-12},{"t":241.46,"v":1.0e-12},{"t":249.15,"v":1.12e-12},{"t":258.16,"v":1.57e-12},{"t":267.13,"v":9.3e-13},{"t":277.41,"v":1.12e-12},{"t":287.64,"v":1.47e-12},{"t":295.34,"v":1.0e-12},{"t":303.04,"v":1.0e-12},{"t":313.32,"v":1.4e-12},{"t":322.94,"v":9.5e-13},{"t":334.49,"v":1.45e-12},{"t":344.11,"v":9.5e-13},{"t":355.66,"v":1.4e-12},{"t":362.97,"v":1.15e-12}]
},
"resolve": {"axis": {"x": "independent", "y": "independent"}},
"layer": [
{"data": {"name": "sun"}, "mark": {"type": "line", "interpolate": "monotone", "clip": true, "strokeWidth": 2},
 "encoding": {
  "x": {"field": "t", "type": "quantitative", "scale": {"domain": [0, 362.6], "nice": false, "zero": false},
   "axis": {"orient": "bottom", "values": [0,50,100,150,200,250,300,350], "tickSize": -6, "labelPadding": 12, "labelFontSize": 24, "labelFlush": false,
    "title": "Time [days] from epoch (Jan 13, 2023)", "titleFontSize": 28, "titleX": 471, "titleY": 55, "titleAlign": "center", "titleBaseline": "alphabetic"}},
  "y": {"field": "v", "type": "quantitative", "scale": {"type": "log", "domain": [5.11e-17, 4.91e-4], "nice": false},
   "axis": {"orient": "left", "values": [1e-8,1e-6,1e-4], "tickSize": -6, "labelPadding": 34, "labelFontSize": 24, "labelExpr": "'10'",
    "title": "Net perturbing acceleration [km/s²]", "titleFontSize": 26, "titleAngle": 270, "titleX": -63, "titleY": 221.5, "titleAlign": "center", "titleBaseline": "alphabetic"}},
  "color": {"datum": "Sun", "type": "nominal",
   "scale": {"domain": ["Sun","Earth","Moon","Venus","Mars","Jupiter","Saturn","SRP","Moon-J2","Earth-J2"], "range": ["#FFC000","#0000FF","#808080","#00FF00","#FF0000","#FFA860","#FF00FF","#000000","#00FFFF","#34508C"]},
   "legend": {"orient": "none", "legendX": 791, "legendY": 5, "title": null, "fillColor": "white", "strokeColor": "#a0a0a0", "padding": 3, "symbolOffset": 7, "symbolType": "M-1.25,0H1.25", "symbolSize": 900, "symbolStrokeWidth": 2, "labelFontSize": 26, "labelColor": "black", "labelOffset": 6, "rowPadding": 1, "labelLimit": 0}}
 }},
{"data": {"name": "earth"}, "mark": {"type": "line", "interpolate": "monotone", "clip": true, "strokeWidth": 2},
 "encoding": {
  "x": {"field": "t", "type": "quantitative", "scale": {"domain": [0, 362.6], "nice": false, "zero": false},
   "axis": {"orient": "top", "values": [0,50,100,150,200,250,300,350], "tickSize": -6, "labels": false, "title": null}},
  "y": {"field": "v", "type": "quantitative", "scale": {"type": "log", "domain": [5.11e-17, 4.91e-4], "nice": false},
   "axis": {"orient": "right", "values": [1e-16,1e-14,1e-12,1e-10,1e-8,1e-6,1e-4], "tickSize": -6, "labels": false, "title": null}},
  "color": {"datum": "Earth", "type": "nominal"}
 }},
{"data": {"name": "moon"}, "mark": {"type": "line", "interpolate": "monotone", "clip": true, "strokeWidth": 2},
 "encoding": {
  "x": {"field": "t", "type": "quantitative", "axis": null},
  "y": {"field": "m", "type": "quantitative",
   "axis": {"orient": "left", "values": [1e-16,1e-14,1e-12,1e-10,1e-8,1e-6,1e-4], "tickSize": -6, "tickOpacity": 0, "labelPadding": 15, "labelFontSize": 18, "labelOffset": -9.5, "title": null,
    "labelExpr": "datum.value < 1e-15 ? '-16' : datum.value < 1e-13 ? '-14' : datum.value < 1e-11 ? '-12' : datum.value < 1e-9 ? '-10' : datum.value < 1e-7 ? '-8' : datum.value < 1e-5 ? '-6' : '-4'"}},
  "color": {"datum": "Moon", "type": "nominal"}
 }},
{"data": {"name": "venus"}, "mark": {"type": "line", "interpolate": "monotone", "clip": true, "strokeWidth": 2},
 "encoding": {
  "x": {"field": "t", "type": "quantitative", "axis": null},
  "y": {"field": "v", "type": "quantitative",
   "axis": {"orient": "left", "values": [1e-16,1e-14,1e-12,1e-10], "tickSize": -6, "labelPadding": 42, "labelFontSize": 24, "labelExpr": "'10'", "title": null}},
  "color": {"datum": "Venus", "type": "nominal"}
 }},
{"data": {"name": "mars"}, "mark": {"type": "line", "interpolate": "monotone", "clip": true, "strokeWidth": 2},
 "encoding": {
  "x": {"field": "t", "type": "quantitative", "axis": null},
  "y": {"field": "v", "type": "quantitative", "axis": null},
  "color": {"datum": "Mars", "type": "nominal"}
 }},
{"data": {"name": "jupiter"}, "mark": {"type": "line", "interpolate": "monotone", "clip": true, "strokeWidth": 2},
 "encoding": {
  "x": {"field": "t", "type": "quantitative", "axis": null},
  "y": {"field": "v", "type": "quantitative", "axis": null},
  "color": {"datum": "Jupiter", "type": "nominal"}
 }},
{"data": {"name": "saturn"}, "mark": {"type": "line", "interpolate": "monotone", "clip": true, "strokeWidth": 2},
 "encoding": {
  "x": {"field": "t", "type": "quantitative", "axis": null},
  "y": {"field": "v", "type": "quantitative", "axis": null},
  "color": {"datum": "Saturn", "type": "nominal"}
 }},
{"data": {"name": "srp"}, "mark": {"type": "line", "clip": true, "strokeWidth": 2},
 "encoding": {
  "x": {"field": "t", "type": "quantitative", "axis": null},
  "y": {"field": "v", "type": "quantitative", "axis": null},
  "color": {"datum": "SRP", "type": "nominal"}
 }},
{"data": {"name": "moon"}, "mark": {"type": "line", "interpolate": "monotone", "clip": true, "strokeWidth": 2},
 "encoding": {
  "x": {"field": "t", "type": "quantitative", "axis": null},
  "y": {"field": "j", "type": "quantitative", "axis": null},
  "color": {"datum": "Moon-J2", "type": "nominal"}
 }},
{"data": {"name": "earthj2"}, "mark": {"type": "line", "clip": true, "strokeWidth": 2},
 "encoding": {
  "x": {"field": "t", "type": "quantitative", "axis": null},
  "y": {"field": "v", "type": "quantitative", "axis": null},
  "color": {"datum": "Earth-J2", "type": "nominal"}
 }}
]
}
